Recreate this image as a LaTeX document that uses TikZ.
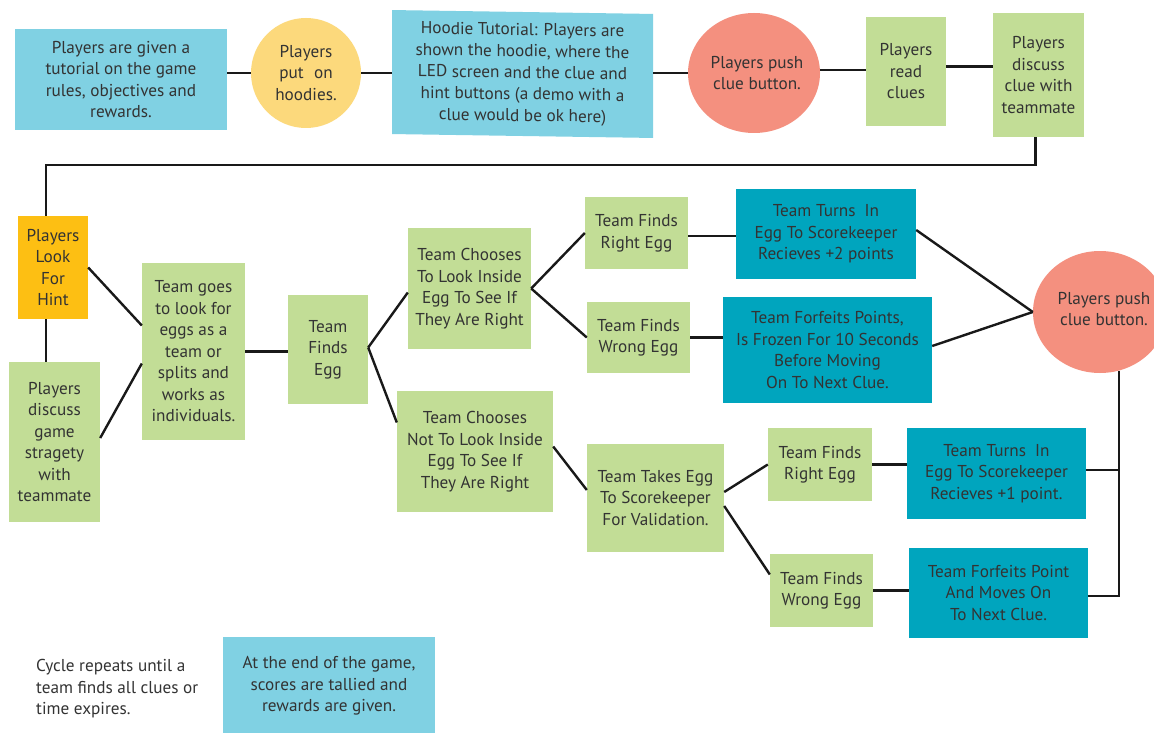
\documentclass[tikz,border=0pt]{standalone}
\usepackage{fontspec}
\setmainfont{PT Sans}
\usetikzlibrary{shapes.geometric}
\definecolor{lblue}{HTML}{80D1E3}
\definecolor{yel}{HTML}{FCD97C}
\definecolor{salmon}{HTML}{F4907F}
\definecolor{lgreen}{HTML}{C2DD96}
\definecolor{orng}{HTML}{FDBF13}
\definecolor{teal2}{HTML}{00A5BE}
\definecolor{txt}{HTML}{333333}
\begin{document}
\begin{tikzpicture}[x=1pt,y=-1pt,
  every node/.style={font=\fontsize{17.2}{21.5}\selectfont, text=txt, align=center},
  bx/.style={rectangle, draw=none, inner sep=0pt},
  blob/.style={draw=none, inner sep=0pt},
  ln/.style={line width=2.4pt, black!90}]
\fill[white] (0,0) rectangle (1154,733);
\useasboundingbox (0,0) rectangle (1154,733);

% top row
\node[bx, fill=lblue, minimum width=212pt, minimum height=101pt] (box1) at (121,79.5)
  {Players are given a\\tutorial on the game\\rules, objectives and\\rewards.};
\node[blob, circle, fill=yel, minimum size=110pt] (circ) at (306,73) {};
\node at (circ) {Players\\put\hspace{0.6em}on\\hoodies.};
\node[bx, fill=lblue, minimum width=261pt, minimum height=124pt, yslant=-0.015] (hood) at (522.5,74)
  {Hoodie Tutorial: Players are\\shown the hoodie, where the\\LED screen and the clue and\\hint buttons (a demo with a\\clue would be ok here)};
\node[blob, ellipse, fill=salmon, minimum width=132pt, minimum height=120pt] (e1) at (754,73) {};
\node at ([xshift=3pt]e1.center) {Players push\\clue button.};
\node[bx, fill=lgreen, minimum width=80pt, minimum height=109pt] (read) at (906,71.5)
  {Players\\read\\clues};
\node[bx, fill=lgreen, minimum width=91pt, minimum height=124pt] (disc) at (1038.5,75)
  {Players\\discuss\\clue with\\teammate};

% left column
\node[bx, fill=orng, minimum width=70pt, minimum height=103pt] (hint) at (53,267.5)
  {Players\\Look\\For\\Hint};
\node[bx, fill=lgreen, minimum width=91pt, minimum height=160pt] (dg) at (54.5,442)
  {Players\\discuss\\game\\stragety\\with\\teammate};
\node[bx, fill=lgreen, minimum width=103pt, minimum height=177pt] (tg) at (193.5,351.5)
  {Team goes\\to look for\\eggs as a\\team or\\splits and\\works as\\individuals.};
\node[bx, fill=lgreen, minimum width=80pt, minimum height=109pt] (tfe) at (328,349.5)
  {Team\\Finds\\Egg};

% branches
\node[bx, fill=lgreen, minimum width=123pt, minimum height=121pt] (ch) at (469.5,288.5)
  {Team Chooses\\To Look Inside\\Egg To See If\\They Are Right};
\node[bx, fill=lgreen, minimum width=156pt, minimum height=121pt] (notch) at (475,451.5)
  {Team Chooses\\Not To Look Inside\\Egg To See If\\They Are Right};
\node[bx, fill=lgreen, minimum width=103pt, minimum height=72pt] (re) at (636.5,233)
  {Team Finds\\Right Egg};
\node[bx, fill=lgreen, minimum width=103pt, minimum height=71pt] (we) at (638.5,337.5)
  {Team Finds\\Wrong Egg};
\node[bx, fill=teal2, minimum width=180pt, minimum height=90pt] (b1) at (826,234)
  {Team Turns\ \ In\\Egg To Scorekeeper\\Recieves +2 points};
\node[bx, fill=teal2, minimum width=209pt, minimum height=106pt] (b2) at (827.5,350)
  {Team Forfeits Points,\\Is Frozen For 10 Seconds\\Before Moving\\On To Next Clue.};
\node[blob, ellipse, fill=salmon, minimum width=134pt, minimum height=122pt] (e2) at (1100,312) {};
\node at ([xshift=4pt,yshift=3pt]e2.center) {Players push\\clue button.};
\node[bx, fill=lgreen, minimum width=137pt, minimum height=108pt] (tk) at (655.5,498)
  {Team Takes Egg\\To Scorekeeper\\For Validation.};
\node[bx, fill=lgreen, minimum width=104pt, minimum height=73pt] (re2) at (820,464.5)
  {Team Finds\\Right Egg};
\node[bx, fill=lgreen, minimum width=103pt, minimum height=73pt] (we2) at (821.5,590.5)
  {Team Finds\\Wrong Egg};
\node[bx, fill=teal2, minimum width=179pt, minimum height=91pt] (b3) at (996.5,473.5)
  {Team Turns\ \ In\\Egg To Scorekeeper\\Recieves +1 point.};
\node[bx, fill=teal2, minimum width=179pt, minimum height=90pt] (b4) at (998.5,593)
  {Team Forfeits Point\\And Moves On\\To Next Clue.};

% bottom
\node[align=left, anchor=west, inner sep=0pt] (cyc) at (36,689)
  {Cycle repeats until a\\team finds all clues or\\time expires.};
\node[bx, fill=lblue, minimum width=212pt, minimum height=98pt] (endb) at (329,686)
  {At the end of the game,\\scores are tallied and\\rewards are given.};

% connectors
\draw[ln] (box1.east |- circ.west) -- (circ.west);
\draw[ln] (circ.east) -- (circ.east -| hood.west);
\draw[ln] (e1.west -| hood.east) -- (e1.west);
\draw[ln] ([yshift=3pt]e1.east) -- ([yshift=3pt]e1.east -| read.west);
\draw[ln] ([yshift=5pt]read.east) -- ([yshift=5pt]read.east -| disc.west);
\draw[ln] ([xshift=-3pt]disc.south) -- ++(0,28) -| ([xshift=-7pt]hint.north);
\draw[ln] ([xshift=-7pt]hint.south) -- ([xshift=-7pt]hint.south |- dg.north);
\draw[ln] (hint.east) -- ([yshift=26pt]tg.west);
\draw[ln] ([yshift=4pt]dg.east) -- ([yshift=-12pt]tg.west);
\draw[ln] (tg.east) -- (tg.east -| tfe.west);
\draw[ln] ([yshift=2pt]tfe.east) -- ([yshift=-4pt]ch.west);
\draw[ln] ([yshift=2pt]tfe.east) -- ([yshift=29pt]notch.west);
\draw[ln] (ch.east) -- (re.west);
\draw[ln] (ch.east) -- (we.west);
\draw[ln] ([yshift=-3pt]re.east) -- ([yshift=-3pt]re.east -| b1.west);
\draw[ln] (we.east) -- (we.east -| b2.west);
\draw[ln] ([yshift=4pt]b1.east) -- (e2.west);
\draw[ln] ([yshift=4pt]b2.east) -- (e2.west);
\draw[ln] ([yshift=5pt]notch.east) -- ([yshift=8pt]tk.west);
\draw[ln] ([yshift=6pt]tk.east) -- (re2.west);
\draw[ln] ([yshift=-8pt]tk.east) -- ([yshift=16pt]we2.west);
\draw[ln] (re2.east) -- (re2.east -| b3.west);
\draw[ln] (we2.east) -- (we2.east -| b4.west);
\coordinate (vt) at (1119,370.5);
\draw[ln] (vt) |- ([yshift=-3pt]b4.east);
\draw[ln] ([yshift=3.5pt]b3.east) -- ([yshift=3.5pt]b3.east -| vt);
\end{tikzpicture}
\end{document}
